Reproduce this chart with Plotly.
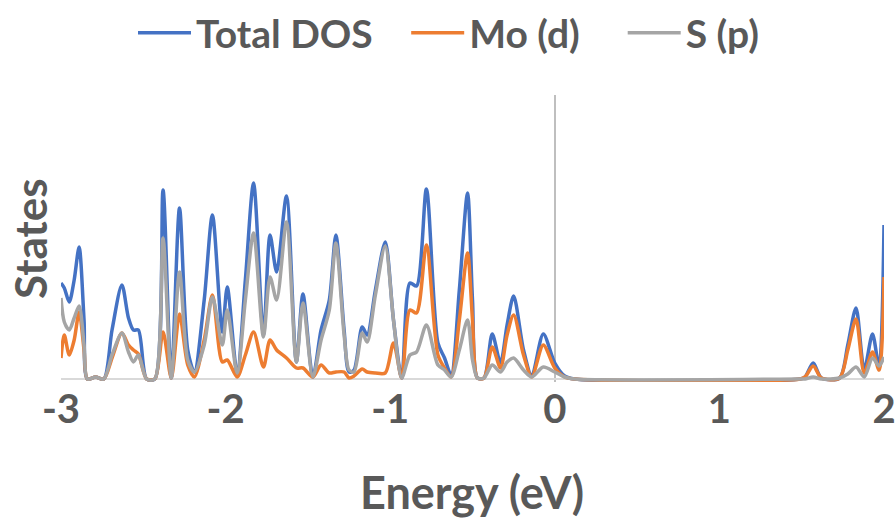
import plotly.graph_objects as go

# Energy grid (eV) and projected density of states (arbitrary units)
energy = [
    -3.00, -2.98, -2.95, -2.92, -2.89, -2.86, -2.84, -2.79, -2.74, -2.69,
    -2.63, -2.59, -2.56, -2.53, -2.48, -2.43, -2.38, -2.33, -2.28, -2.23,
    -2.19, -2.13, -2.08, -2.02, -1.99, -1.93, -1.88, -1.83, -1.77, -1.73,
    -1.69, -1.63, -1.57, -1.53, -1.47, -1.42, -1.37, -1.33, -1.28, -1.25,
    -1.22, -1.17, -1.14, -1.09, -1.03, -0.98, -0.93, -0.88, -0.84, -0.78,
    -0.71, -0.67, -0.63, -0.58, -0.53, -0.50, -0.47, -0.43, -0.38, -0.33,
    -0.29, -0.25, -0.19, -0.14, -0.07, 0.00, 0.06, 0.12, 1.49, 1.52,
    1.57, 1.62, 1.73, 1.78, 1.83, 1.88, 1.93, 1.97, 2.00,
]

total_dos = [
    4.80, 4.55, 3.85, 4.95, 6.60, 2.95, 0.00, 0.10, 0.00, 2.45,
    4.70, 3.05, 2.45, 2.45, 0.00, 0.00, 9.45, 0.05, 8.55, 1.45,
    0.35, 3.95, 8.20, 2.35, 4.60, 0.30, 4.95, 9.80, 2.20, 7.20,
    5.35, 9.15, 0.85, 4.25, 0.10, 2.45, 3.95, 7.20, 2.45, 0.35,
    0.45, 2.60, 2.20, 4.45, 6.85, 2.95, 0.05, 4.80, 4.65, 9.50,
    1.80, 1.05, 0.20, 4.45, 9.30, 3.95, 0.05, 0.05, 2.25, 0.80,
    2.70, 4.15, 1.45, 0.15, 2.25, 0.80, 0.15, 0.00, 0.00, 0.10,
    0.80, 0.05, 0.05, 1.70, 3.55, 0.45, 2.25, 0.60, 7.70,
]

mo_d = [
    1.05, 2.20, 1.20, 1.95, 3.35, 1.45, 0.00, 0.10, 0.00, 1.05,
    2.30, 1.70, 1.45, 1.25, 0.00, 0.00, 2.35, 0.05, 3.25, 0.70,
    0.10, 1.95, 4.20, 0.85, 0.95, 0.10, 1.20, 2.35, 0.60, 1.95,
    1.45, 1.05, 0.55, 0.55, 0.10, 0.70, 0.30, 0.35, 0.35, 0.05,
    0.15, 0.50, 0.35, 0.30, 0.30, 1.80, 0.05, 3.45, 3.30, 6.70,
    1.20, 0.55, 0.10, 2.95, 6.30, 2.95, 0.05, 0.05, 1.60, 0.55,
    2.20, 3.20, 1.20, 0.10, 1.70, 0.55, 0.10, 0.00, 0.00, 0.10,
    0.65, 0.05, 0.05, 1.45, 3.00, 0.30, 1.35, 0.45, 5.10,
]

s_p = [
    4.05, 2.85, 2.45, 3.05, 3.65, 1.70, 0.00, 0.10, 0.00, 1.20,
    2.30, 1.35, 0.85, 1.20, 0.00, 0.00, 7.05, 0.05, 5.35, 0.95,
    0.35, 1.70, 4.10, 1.70, 3.45, 0.30, 3.95, 7.30, 2.10, 5.10,
    3.95, 7.85, 0.85, 3.80, 0.10, 1.95, 3.45, 6.80, 2.20, 0.45,
    0.35, 2.30, 1.85, 4.20, 6.65, 2.95, 0.05, 1.20, 1.35, 2.70,
    0.70, 0.45, 0.10, 1.45, 2.95, 0.95, 0.05, 0.05, 0.70, 0.35,
    0.85, 1.05, 0.45, 0.10, 0.60, 0.35, 0.10, 0.00, 0.00, 0.00,
    0.10, 0.00, 0.05, 0.25, 0.60, 0.10, 1.05, 0.65, 1.10,
]

series_names = ["Total DOS", "Mo (d)", "S (p)"]
series_colors = ["#4472C4", "#ED7D31", "#A5A5A5"]
tick_values = [-3, -2, -1, 0, 1, 2]

FONT = "Lato, sans-serif"
TEXT_COLOR = "#595959"
NBSP = "\u00a0"
# extra spacing after each legend entry
legend_pad = [3, 4, 0]

fig = go.Figure()
for name, values, color, pad in zip(series_names, [total_dos, mo_d, s_p], series_colors, legend_pad):
    fig.add_trace(go.Scatter(
        x=energy, y=values, name=name + NBSP * pad, mode="lines",
        line=dict(color=color, width=3.5, shape="spline", smoothing=0.8),
    ))

fig.update_layout(
    width=896, height=519,
    margin=dict(l=61, r=12, t=95, b=137, autoexpand=False),
    plot_bgcolor="white", paper_bgcolor="white",
    font=dict(family=FONT, color=TEXT_COLOR),
    showlegend=True,
    legend=dict(
        orientation="h", x=(133 - 61) / 823, xanchor="left",
        y=(382 - 33) / 287, yanchor="middle",
        font=dict(size=39, family=FONT, color=TEXT_COLOR, weight="bold"),
        itemwidth=53,
    ),
    xaxis=dict(
        range=[-3, 2], tickvals=tick_values, ticktext=[str(t) for t in tick_values],
        showgrid=False, ticks="", showline=False, automargin=False,
        zeroline=True, zerolinecolor="#BFBFBF", zerolinewidth=2,
        tickfont=dict(size=40, family=FONT, color=TEXT_COLOR, weight="bold"),
        layer="below traces",
    ),
    yaxis=dict(
        range=[-0.15, 14.2], showticklabels=False, showgrid=False, ticks="",
        zeroline=True, zerolinecolor="#D9D9D9", zerolinewidth=2,
        layer="below traces", automargin=False,
    ),
    annotations=[
        dict(text="<b>Energy (eV)</b>", xref="paper", yref="paper",
             x=(472 - 61) / 823, y=(382 - 492) / 287, xanchor="center", yanchor="middle",
             showarrow=False, font=dict(size=45, family=FONT, color=TEXT_COLOR)),
        dict(text="<b>States</b>", xref="paper", yref="paper",
             x=(30 - 61) / 823, y=(382 - 239) / 287, xanchor="center", yanchor="middle",
             textangle=-90, showarrow=False,
             font=dict(size=44, family=FONT, color=TEXT_COLOR)),
    ],
)

fig.write_html("out.html")
